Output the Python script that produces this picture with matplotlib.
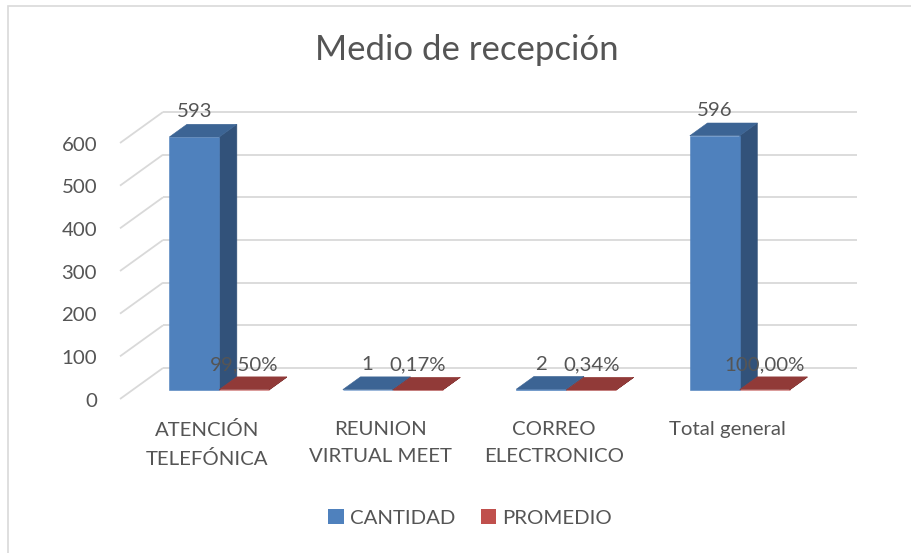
import matplotlib
matplotlib.use("Agg")
import matplotlib.pyplot as plt
from matplotlib.patches import Polygon, Rectangle, Patch

categories = ["ATENCIÓN\nTELEFÓNICA", "REUNION\nVIRTUAL MEET", "CORREO\nELECTRONICO", "Total general"]
cantidad = [593, 1, 2, 596]
promedio = [0.995, 0.0017, 0.0034, 1.0]
series_names = ["CANTIDAD", "PROMEDIO"]
yticks = [0, 100, 200, 300, 400, 500, 600]
title = "Medio de recepción"

FONT = ["Lato", "DejaVu Sans"]
TXT = "#555555"
GRID = "#d9d9d9"
FS = 14.7
colors = {
    "CANTIDAD": dict(front="#4f81bd", side="#32527a", top="#3c6494"),
    "PROMEDIO": dict(front="#c0504d", side="#7d3432", top="#913a38"),
}

W, H = 912, 553
fig = plt.figure(figsize=(W / 100, H / 100), dpi=100)
plt.rcParams["font.family"] = FONT

# back wall axes
ax = fig.add_axes([163 / W, (H - 368) / H, 694 / W, 256 / H])
ax.set_xlim(0, len(categories))
ax.set_ylim(0, 600)
ax.axis("off")

# oblique depth offset (per unit depth, back=0, front=1)
DX = -43 / 173.5
DY = -31 * 600 / 256


def P(x, y, d):
    return (x + DX * d, y + DY * d)


# gridlines
for v in yticks:
    ax.plot([0, len(categories)], [v, v], color=GRID, lw=1.3, clip_on=False, zorder=1,
            solid_capstyle="butt")
    a, b = P(0, v, 0), P(0, v, 1)
    ax.plot([a[0], b[0]], [a[1], b[1]], color=GRID, lw=1.3, clip_on=False, zorder=1,
            solid_capstyle="butt")
    ax.annotate(str(v), xy=b, xytext=(-16.5, -1.5), textcoords="offset points",
                ha="right", va="center", fontsize=FS, color=TXT, annotation_clip=False)

bw = 0.2875
z0, z1 = 0.30, 0.71


def bar3d(x0, x1, h, c, zo):
    front = [P(x0, 0, z1), P(x1, 0, z1), P(x1, h, z1), P(x0, h, z1)]
    side = [P(x1, 0, z1), P(x1, 0, z0), P(x1, h, z0), P(x1, h, z1)]
    top = [P(x0, h, z1), P(x1, h, z1), P(x1, h, z0), P(x0, h, z0)]
    for pts, col in ((side, c["side"]), (front, c["front"]), (top, c["top"])):
        ax.add_patch(Polygon(pts, closed=True, facecolor=col, edgecolor=col, lw=0.4,
                             clip_on=False, zorder=zo))


for i, cat in enumerate(categories):
    xc = i + 0.5
    bar3d(xc - bw, xc, cantidad[i], colors["CANTIDAD"], 3 + i)
    bar3d(xc, xc + bw, promedio[i], colors["PROMEDIO"], 3 + i)
    ax.annotate(str(cantidad[i]), xy=P(xc - bw / 2, cantidad[i], z1), xytext=(0, 18),
                textcoords="offset points", ha="center", va="center", fontsize=FS,
                color=TXT, annotation_clip=False, zorder=20)
    lab = f"{promedio[i] * 100:.2f}%".replace(".", ",")
    ax.annotate(lab, xy=P(xc + bw / 2, promedio[i], z1), xytext=(0, 18),
                textcoords="offset points", ha="center", va="center", fontsize=FS,
                color=TXT, annotation_clip=False, zorder=20)
    ax.annotate(cat, xy=P(xc, 0, 1), xytext=(0, -16), textcoords="offset points",
                ha="center", va="top", fontsize=FS, color=TXT, linespacing=1.72,
                annotation_clip=False)

fig.text(467 / W, 1 - 50 / H, title, ha="center", va="center", fontsize=25, color=TXT)

handles = [Patch(facecolor=colors[n]["front"], edgecolor="none", label=n) for n in series_names]
fig.legend(handles=handles, loc="center", bbox_to_anchor=(470 / W, 1 - 518 / H), ncol=2,
           frameon=False, fontsize=FS, handlelength=0.74, handleheight=0.74,
           handletextpad=0.3, columnspacing=1.25, labelcolor=TXT)

fig.patches.append(Rectangle((8 / W, -0.1), 1.2, 1.1 - 6 / H, transform=fig.transFigure,
                             fill=False, edgecolor=GRID, lw=1.2))

fig.savefig("out.png", dpi=100)
